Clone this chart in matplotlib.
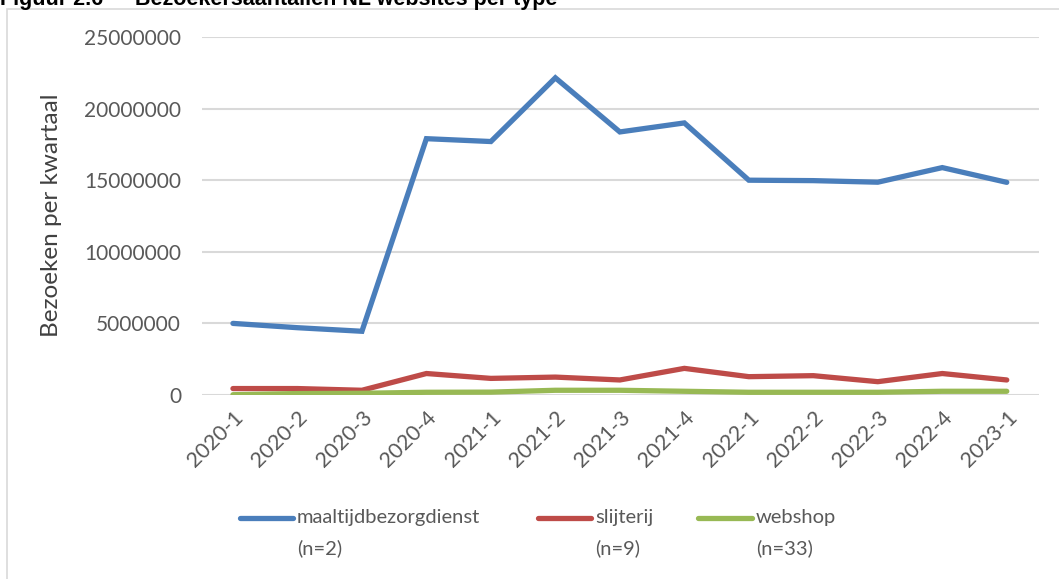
import matplotlib
matplotlib.use("Agg")
import matplotlib.pyplot as plt
from matplotlib.lines import Line2D
from matplotlib.patches import Rectangle

quarters = ["2020-1", "2020-2", "2020-3", "2020-4", "2021-1", "2021-2", "2021-3",
            "2021-4", "2022-1", "2022-2", "2022-3", "2022-4", "2023-1"]
maaltijd = [5000000, 4700000, 4450000, 17900000, 17700000, 22150000, 18370000,
            19000000, 15000000, 14970000, 14860000, 15880000, 14850000]
slijterij = [450000, 450000, 330000, 1500000, 1160000, 1250000, 1050000,
             1860000, 1280000, 1350000, 930000, 1500000, 1050000]
webshop = [20000, 100000, 120000, 190000, 200000, 330000, 330000,
           260000, 190000, 190000, 190000, 260000, 260000]
series_labels = ["maaltijdbezorgdienst", "slijterij", "webshop"]
series_n = ["(n=2)", "(n=9)", "(n=33)"]
yticks = [0, 5000000, 10000000, 15000000, 20000000, 25000000]

colors = ["#4A7EBB", "#BE4B48", "#98B954"]
font = ["Lato", "DejaVu Sans"]
plt.rcParams["font.family"] = font

fig = plt.figure(figsize=(10.59, 5.79), dpi=100)
ax = fig.add_axes([202 / 1059, 1 - 395 / 579, (1039 - 202) / 1059, (395 - 37) / 579])

x = list(range(len(quarters)))
lines = []
for vals, c in zip([maaltijd, slijterij, webshop], colors):
    ln, = ax.plot(x, vals, color=c, lw=3.8, solid_capstyle="round", solid_joinstyle="miter", zorder=3)
    lines.append(ln)

ax.set_xlim(-0.48, 12.5)
ax.set_ylim(0, 25000000)
ax.set_yticks(yticks)
ax.set_yticklabels([str(v) for v in yticks], fontsize=15, color="#595959")
ax.set_xticks(x)
ax.set_xticklabels(quarters, rotation=45, ha="right", rotation_mode="anchor",
                   fontsize=15.5, color="#595959")
ax.tick_params(axis="both", length=0)
ax.tick_params(axis="y", pad=15)
ax.tick_params(axis="x", pad=9)
for s in ax.spines.values():
    s.set_visible(False)
ax.grid(axis="y", color="#D9D9D9", lw=1.5, zorder=0)
ax.set_axisbelow(True)
ax.set_ylabel("Bezoeken per kwartaal", fontsize=17.5, color="#404040")
ax.yaxis.set_label_coords((62 - 202) / 837, (395 - 215) / 358)

# Frame around chart (right edge beyond image)
fig.add_artist(Rectangle((7 / 1059, -0.01), 1.05, 1 - 9 / 579 + 0.01,
                         transform=fig.transFigure, fill=False, edgecolor="#D9D9D9", lw=1.2))

# Title (cut off at top)
fig.text(0.0, 1 - 5 / 579, "Figuur 2.6", fontsize=15.5, fontweight="bold",
         family="Liberation Sans", va="baseline", ha="left")
fig.text(135 / 1059, 1 - 5 / 579, "Bezoekersaantallen NL websites per type", fontsize=15.5,
         fontweight="bold", family="Liberation Sans", va="baseline", ha="left")

# Legend
leg_pos = [(240, 293, 297), (538, 591, 595), (698, 752, 756)]
for (x0, x1, tx), ln, lab, n in zip(leg_pos, lines, series_labels, series_n):
    yl = 1 - 518 / 579
    fig.add_artist(Line2D([x0 / 1059, x1 / 1059], [yl, yl], transform=fig.transFigure,
                          color=ln.get_color(), lw=3.8, solid_capstyle="round"))
    fig.text(tx / 1059, yl, lab, fontsize=14.5, color="#595959", va="center", ha="left")
    fig.text(tx / 1059, 1 - 548 / 579, n, fontsize=14.5, color="#595959", va="center", ha="left")

fig.savefig("out.png", dpi=100)
